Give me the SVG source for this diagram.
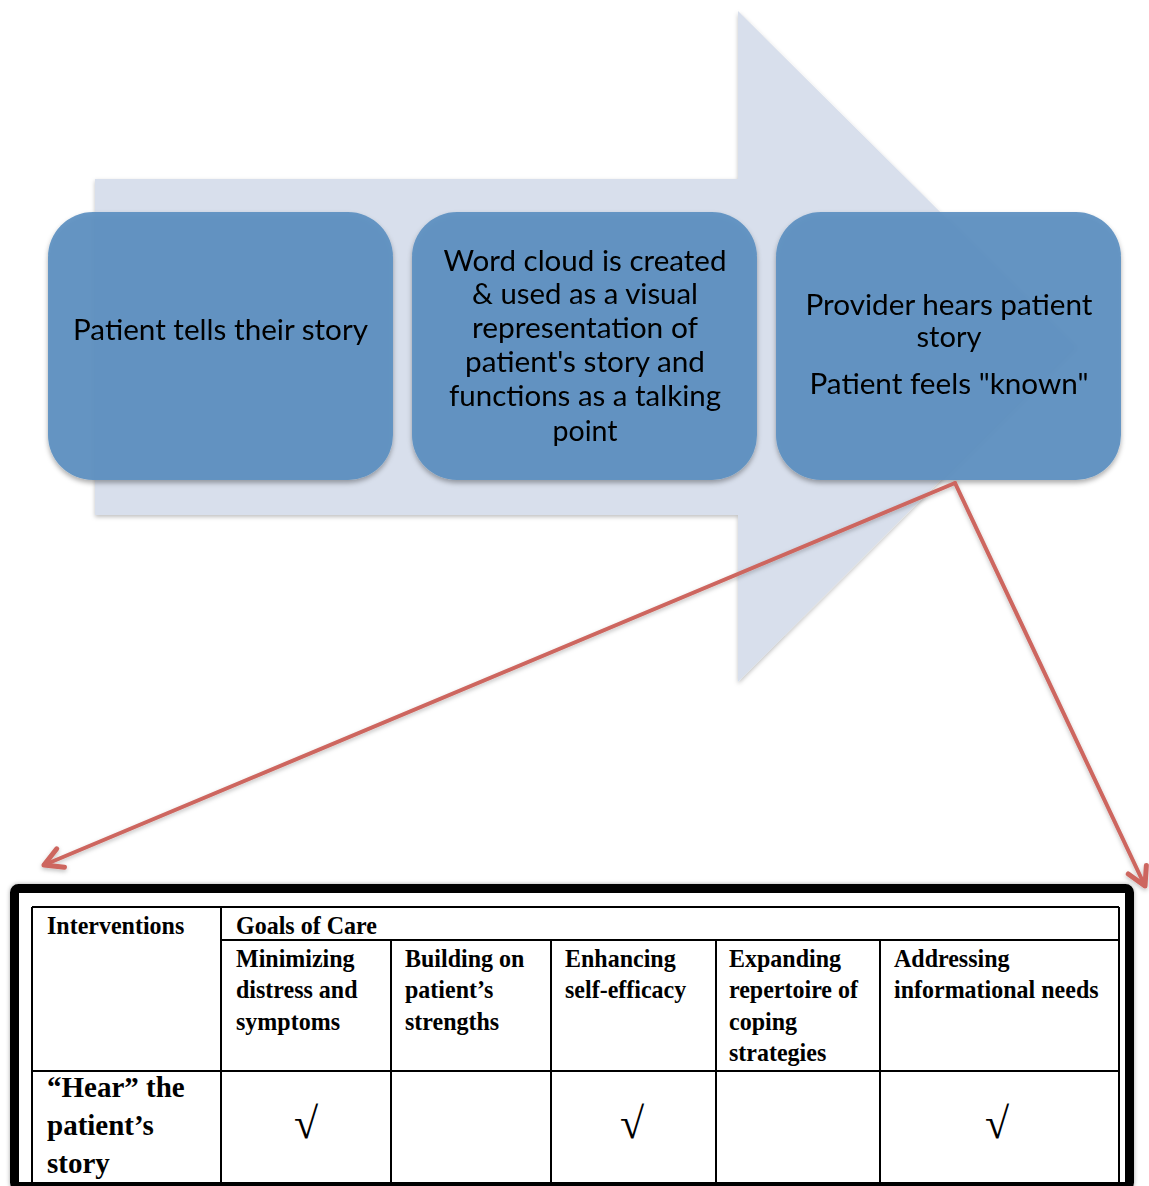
<svg xmlns="http://www.w3.org/2000/svg" width="1149" height="1186" viewBox="0 0 1149 1186">
  <style>
    .step { fill: #5d90c1; fill-opacity: 0.93; }
    .steptxt { font-family: Lato, "Open Sans", "Liberation Sans", sans-serif; font-size: 28px; fill: #000; text-anchor: middle; }
    .grid { stroke: #000; stroke-width: 2; fill: none; }
    .hd { font-family: "Liberation Serif", "Times New Roman", serif; font-weight: bold; font-size: 24px; fill: #000; }
    .big { font-family: "Liberation Serif", "Times New Roman", serif; font-weight: bold; font-size: 29px; fill: #000; }
    .chk { font-family: "Liberation Serif", "Times New Roman", serif; font-size: 44px; fill: #000; text-anchor: middle; }
    .zoomline { stroke: #cd665f; stroke-width: 4; fill: none; stroke-linecap: round; }
  </style>
  <defs>
    <filter id="softShadow" x="-10%" y="-10%" width="120%" height="130%">
      <feDropShadow dx="0" dy="3" stdDeviation="2.5" flood-color="#000" flood-opacity="0.35"/>
    </filter>
    <filter id="arrowShadow" x="-10%" y="-10%" width="120%" height="120%">
      <feDropShadow dx="0" dy="2" stdDeviation="2" flood-color="#000" flood-opacity="0.25"/>
    </filter>
    <filter id="frameShadow" x="-5%" y="-10%" width="110%" height="120%">
      <feDropShadow dx="0" dy="0" stdDeviation="2" flood-color="#000" flood-opacity="0.35"/>
    </filter>
    <marker id="openHead" markerUnits="userSpaceOnUse" viewBox="-24 -14 28 28" refX="0" refY="0" markerWidth="28" markerHeight="28" orient="auto">
      <path d="M -18 -10 L 0 0 L -18 10" fill="none" stroke="#cd665f" stroke-width="5" stroke-linecap="round" stroke-linejoin="round"/>
    </marker>
  </defs>

  <!-- large process arrow behind the steps -->
  <g id="process-arrow">
    <polygon points="95,179 738,179 738,11 1075,346 738,682 738,515 95,515" fill="#d8dfec" filter="url(#arrowShadow)"/>
  </g>

  <!-- step 1 -->
  <g id="step-tell" filter="url(#softShadow)">
    <rect class="step" x="48" y="212" width="345" height="268" rx="45" ry="45"/>
    <text class="steptxt" x="220.5" y="340" textLength="295" lengthAdjust="spacingAndGlyphs">Patient tells their story</text>
  </g>

  <!-- step 2 -->
  <g id="step-wordcloud" filter="url(#softShadow)">
    <rect class="step" x="412" y="212" width="345" height="268" rx="45" ry="45"/>
    <text class="steptxt" x="585" y="271" textLength="283" lengthAdjust="spacingAndGlyphs">Word cloud is created</text>
    <text class="steptxt" x="585" y="304" textLength="226" lengthAdjust="spacingAndGlyphs">&amp; used as a visual</text>
    <text class="steptxt" x="585" y="338" textLength="226" lengthAdjust="spacingAndGlyphs">representation of</text>
    <text class="steptxt" x="585" y="372" textLength="240" lengthAdjust="spacingAndGlyphs">patient's story and</text>
    <text class="steptxt" x="585" y="406" textLength="272" lengthAdjust="spacingAndGlyphs">functions as a talking</text>
    <text class="steptxt" x="585" y="441" textLength="65" lengthAdjust="spacingAndGlyphs">point</text>
  </g>

  <!-- step 3 -->
  <g id="step-heard" filter="url(#softShadow)">
    <rect class="step" x="776" y="212" width="345" height="268" rx="45" ry="45"/>
    <text class="steptxt" x="949" y="315" textLength="287" lengthAdjust="spacingAndGlyphs">Provider hears patient</text>
    <text class="steptxt" x="949" y="347" textLength="65" lengthAdjust="spacingAndGlyphs">story</text>
    <text class="steptxt" x="949" y="394" textLength="279" lengthAdjust="spacingAndGlyphs">Patient feels "known"</text>
  </g>

  <!-- callout lines from step 3 to the table -->
  <g id="connectors" filter="url(#arrowShadow)">
    <line class="zoomline" x1="955" y1="483" x2="44" y2="865" marker-end="url(#openHead)"/>
    <line class="zoomline" x1="955" y1="483" x2="1145" y2="886" marker-end="url(#openHead)"/>
  </g>

  <!-- goals-of-care table -->
  <g id="care-table">
    <rect x="14.5" y="888.5" width="1115" height="298" rx="4" ry="4" fill="#fff" stroke="#000" stroke-width="9" filter="url(#frameShadow)"/>
    <g class="grid">
      <line x1="32" y1="907" x2="1119" y2="907"/>
      <line x1="221" y1="940" x2="1119" y2="940"/>
      <line x1="32" y1="1071" x2="1119" y2="1071"/>
      <line x1="32" y1="907" x2="32" y2="1186"/>
      <line x1="221" y1="907" x2="221" y2="1186"/>
      <line x1="391" y1="940" x2="391" y2="1186"/>
      <line x1="551" y1="940" x2="551" y2="1186"/>
      <line x1="716" y1="940" x2="716" y2="1186"/>
      <line x1="880" y1="940" x2="880" y2="1186"/>
      <line x1="1119" y1="907" x2="1119" y2="1186"/>
    </g>

    <text class="hd" transform="translate(47,934) scale(1,1.08)">Interventions</text>
    <text class="hd" transform="translate(236,934) scale(1,1.08)">Goals of Care</text>

    <text class="hd" transform="translate(236,967) scale(1,1.08)">Minimizing</text>
    <text class="hd" transform="translate(236,998) scale(1,1.08)">distress and</text>
    <text class="hd" transform="translate(236,1030) scale(1,1.08)">symptoms</text>

    <text class="hd" transform="translate(405,967) scale(1,1.08)">Building on</text>
    <text class="hd" transform="translate(405,998) scale(1,1.08)">patient’s</text>
    <text class="hd" transform="translate(405,1030) scale(1,1.08)">strengths</text>

    <text class="hd" transform="translate(565,967) scale(1,1.08)">Enhancing</text>
    <text class="hd" transform="translate(565,998) scale(1,1.08)">self-efficacy</text>

    <text class="hd" transform="translate(729,967) scale(1,1.08)">Expanding</text>
    <text class="hd" transform="translate(729,998) scale(1,1.08)">repertoire of</text>
    <text class="hd" transform="translate(729,1030) scale(1,1.08)">coping</text>
    <text class="hd" transform="translate(729,1061) scale(1,1.08)">strategies</text>

    <text class="hd" transform="translate(894,967) scale(1,1.08)">Addressing</text>
    <text class="hd" transform="translate(894,998) scale(1,1.08)">informational needs</text>

    <text class="big" x="47" y="1097">“Hear” the</text>
    <text class="big" x="47" y="1135">patient’s</text>
    <text class="big" x="47" y="1173">story</text>

    <text class="chk" x="306" y="1138">√</text>
    <text class="chk" x="632" y="1138">√</text>
    <text class="chk" x="997" y="1138">√</text>
  </g>
</svg>
